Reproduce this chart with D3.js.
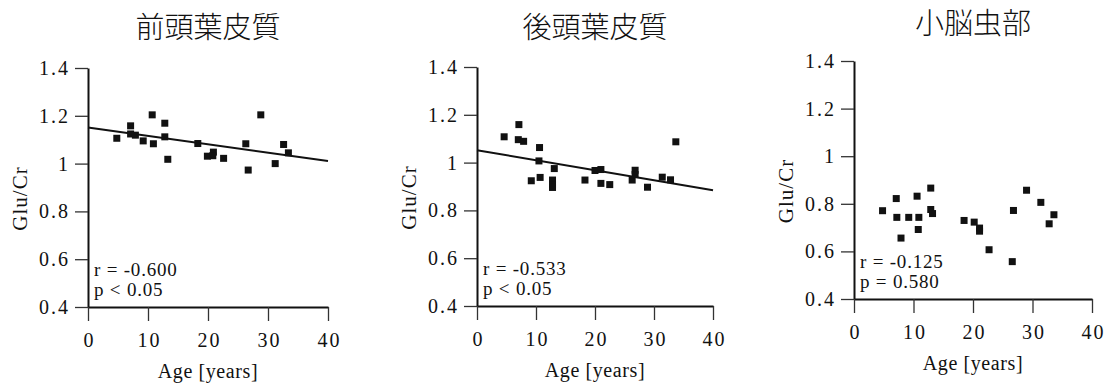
<!DOCTYPE html>
<html>
<head>
<meta charset="utf-8">
<script src="https://cdn.jsdelivr.net/npm/d3@7"></script>
<style>
  body { margin: 0; background: #fff; }
  svg { display: block; }
  .tick text, .num { font-family: "Liberation Serif", "Times New Roman", serif; fill: #111; }
  .title { font-family: "Noto Sans CJK JP", sans-serif; font-weight: 300; fill: #111; }
</style>
</head>
<body>
<svg id="chart" width="1114" height="388"></svg>
<script>
// values
const titles = ['前頭葉皮質', '後頭葉皮質', '小脳虫部'];
const xTicks = [0, 10, 20, 30, 40];
const yTicks = [0.4, 0.6, 0.8, 1, 1.2, 1.4];
const rLabels = ['r = -0.600', 'r = -0.533', 'r = -0.125'];
const pLabels = ['p < 0.05', 'p < 0.05', 'p = 0.580'];

const age1 = [4.8, 7.1, 7.1, 7.9, 9.2, 10.7, 10.9, 12.8, 12.8, 13.3, 18.3, 19.9, 20.9, 20.8, 22.6, 26.3, 26.7, 28.8, 31.2, 32.6, 33.4];
const glu1 = [1.106, 1.158, 1.124, 1.119, 1.095, 1.204, 1.083, 1.169, 1.112, 1.018, 1.084, 1.031, 1.048, 1.033, 1.022, 1.083, 0.973, 1.204, 1.0, 1.080, 1.045];

const age2 = [4.6, 7.1, 7.0, 7.9, 9.2, 10.6, 10.5, 10.7, 12.8, 12.8, 12.8, 13.1, 18.3, 20.0, 21.0, 21.0, 22.5, 26.3, 26.8, 26.8, 28.9, 31.4, 32.8, 33.7];
const glu2 = [1.108, 1.159, 1.096, 1.089, 0.924, 1.063, 1.007, 0.938, 0.927, 0.907, 0.896, 0.975, 0.927, 0.967, 0.971, 0.913, 0.908, 0.927, 0.968, 0.950, 0.897, 0.939, 0.928, 1.087];

const age3 = [4.8, 7.1, 7.2, 7.9, 9.2, 10.6, 10.9, 10.8, 12.9, 12.9, 13.2, 18.5, 20.2, 21.1, 21.1, 22.7, 26.6, 26.8, 29.0, 31.4, 32.8, 33.6];
const glu3 = [0.771, 0.822, 0.743, 0.656, 0.743, 0.832, 0.743, 0.692, 0.866, 0.776, 0.759, 0.730, 0.723, 0.698, 0.685, 0.607, 0.557, 0.772, 0.857, 0.806, 0.716, 0.754];

// regression lines (null = no line drawn)
const fitIntercepts = [1.151, 1.052, null];
const fitSlopes = [-0.0035, -0.0042, null];

const ages = [age1, age2, age3];
const glus = [glu1, glu2, glu3];

// plot frames in pixels: left, right, top, bottom
const frames = [
  { left: 88, right: 328, top: 68, bottom: 307, titleY: 38 },
  { left: 477, right: 713, top: 67, bottom: 306, titleY: 38 },
  { left: 854, right: 1092, top: 61, bottom: 299, titleY: 34 }
];

const svg = d3.select('#chart');

frames.forEach((f, i) => {
  const g = svg.append('g');
  const x = d3.scaleLinear().domain([0, 40]).range([f.left, f.right]);
  const y = d3.scaleLinear().domain([0.4, 1.4]).range([f.bottom, f.top]);

  // title
  g.append('text').attr('class', 'title')
    .attr('x', (f.left + f.right) / 2).attr('y', f.titleY)
    .attr('text-anchor', 'middle').style('font-size', '29px')
    .text(titles[i]);

  // axes
  const yAxis = g.append('g')
    .attr('transform', `translate(${f.left},0)`)
    .call(d3.axisLeft(y).tickValues(yTicks).tickFormat(d => String(d))
      .tickSize(13).tickSizeOuter(0).tickPadding(5));
  const xAxis = g.append('g')
    .attr('transform', `translate(0,${f.bottom})`)
    .call(d3.axisBottom(x).tickValues(xTicks).tickSize(14).tickSizeOuter(0).tickPadding(12));

  [yAxis, xAxis].forEach(a => {
    a.select('.domain').attr('stroke', '#111').attr('stroke-width', 2);
    a.selectAll('.tick line').attr('stroke', '#333').attr('stroke-width', 1.3);
    a.selectAll('.tick text').style('font-size', '20px').style('letter-spacing', '2px');
  });
  xAxis.selectAll('.tick text').attr('dx', '1px');

  // axis labels
  g.append('text').attr('class', 'num')
    .attr('x', (f.left + f.right) / 2).attr('y', f.bottom + 71)
    .attr('text-anchor', 'middle').style('font-size', '20px').style('letter-spacing', '0.6px')
    .text('Age [years]');
  g.append('text').attr('class', 'num')
    .attr('transform', `translate(${f.left - 61},${(f.top + f.bottom) / 2 + 11}) rotate(-90)`)
    .attr('text-anchor', 'middle').style('font-size', '21px').style('letter-spacing', '1px')
    .text('Glu/Cr');

  // regression line
  if (fitIntercepts[i] !== null) {
    g.append('line')
      .attr('x1', x(0)).attr('y1', y(fitIntercepts[i]))
      .attr('x2', x(40)).attr('y2', y(fitIntercepts[i] + fitSlopes[i] * 40))
      .attr('stroke', '#111').attr('stroke-width', 2);
  }

  // points
  const pts = d3.zip(ages[i], glus[i]);
  g.selectAll('rect.pt').data(pts).enter().append('rect')
    .attr('class', 'pt')
    .attr('x', d => x(d[0]) - 3.5).attr('y', d => y(d[1]) - 3.5)
    .attr('width', 7).attr('height', 7)
    .attr('fill', '#111');

  // stats annotation
  g.append('text').attr('class', 'num')
    .attr('x', f.left + 6).attr('y', f.bottom - 31)
    .style('font-size', '19px').style('letter-spacing', '0.8px')
    .text(rLabels[i]);
  g.append('text').attr('class', 'num')
    .attr('x', f.left + 6).attr('y', f.bottom - 11)
    .style('font-size', '19px').style('letter-spacing', '0.8px')
    .text(pLabels[i]);
});
</script>
</body>
</html>
